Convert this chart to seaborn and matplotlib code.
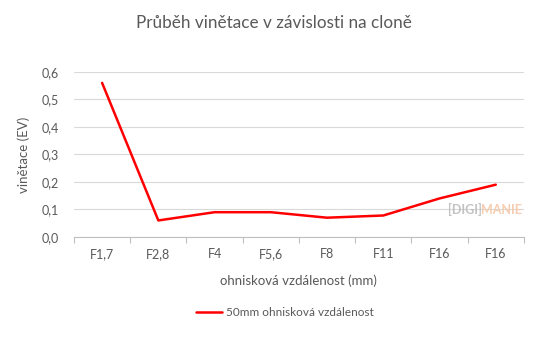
import matplotlib
matplotlib.use("Agg")
import matplotlib.pyplot as plt
import seaborn as sns
import numpy as np
import pandas as pd

apertures = ["F1,7", "F2,8", "F4", "F5,6", "F8", "F11", "F16", "F16"]
vignetting = [0.56, 0.06, 0.09, 0.09, 0.07, 0.078, 0.14, 0.19]
yticks = [0.0, 0.1, 0.2, 0.3, 0.4, 0.5, 0.6]
series_name = "50mm ohnisková vzdálenost"

sns.set_theme(style="white")
plt.rcParams['font.family'] = ['Lato', 'DejaVu Sans']

df = pd.DataFrame({"pos": np.arange(len(apertures)), "val": vignetting, "s": series_name})

fig = plt.figure(figsize=(5.48, 3.39), dpi=100)
ax = fig.add_axes([0.135, 0.301, 0.821, 0.487])
sns.lineplot(data=df, x="pos", y="val", hue="s", palette=["#ff0000"], linewidth=1.8, ax=ax, legend=False)

txt = "#595959"
ax.set_xlim(-0.5, len(apertures) - 0.5)
ax.set_ylim(0, 0.6)
ax.set_yticks(yticks)
ax.set_yticklabels([f"{v:.1f}".replace(".", ",") for v in yticks], color=txt, fontsize=9)
ax.set_xticks(np.arange(len(apertures)))
ax.set_xticklabels(apertures, color=txt, fontsize=9)
ax.set_xticks(np.arange(len(apertures) + 1) - 0.5, minor=True)
ax.tick_params(axis='x', which='major', length=0, pad=8)
ax.tick_params(axis='x', which='minor', length=4, color="#bfbfbf", width=0.8, direction='out', bottom=True)
ax.tick_params(axis='y', length=0, pad=11)
ax.grid(axis='y', color="#d9d9d9", linewidth=0.8)
ax.set_axisbelow(True)
for s in ["top", "right", "left"]:
    ax.spines[s].set_visible(False)
ax.spines["bottom"].set_color("#bfbfbf")
ax.spines["bottom"].set_linewidth(0.8)

ax.set_xlabel("ohnisková vzdálenost (mm)", color=txt, fontsize=9.5, labelpad=10)
ax.set_ylabel("vinětace (EV)", color=txt, fontsize=9.5, labelpad=8)
fig.text(0.5, 0.932, "Průběh vinětace v závislosti na cloně", ha="center", va="center",
         color=txt, fontsize=12.3)

# legend
from matplotlib.lines import Line2D
h = [Line2D([0], [0], color="#ff0000", linewidth=1.8)]
fig.legend(h, [series_name], loc="center", bbox_to_anchor=(0.52, 0.078), frameon=False,
           fontsize=8.5, labelcolor=txt, handlelength=2.2, handletextpad=0.3)

# watermark
fig.text(0.818, 0.382, "[DIGI]", color="#b5b5b5", fontsize=9, fontweight="bold", ha="left", va="center", alpha=0.8)
fig.text(0.877, 0.382, "MANIE", color="#f5c8a8", fontsize=9, fontweight="bold", ha="left", va="center", alpha=0.9)

fig.savefig("out.png", dpi=100)
